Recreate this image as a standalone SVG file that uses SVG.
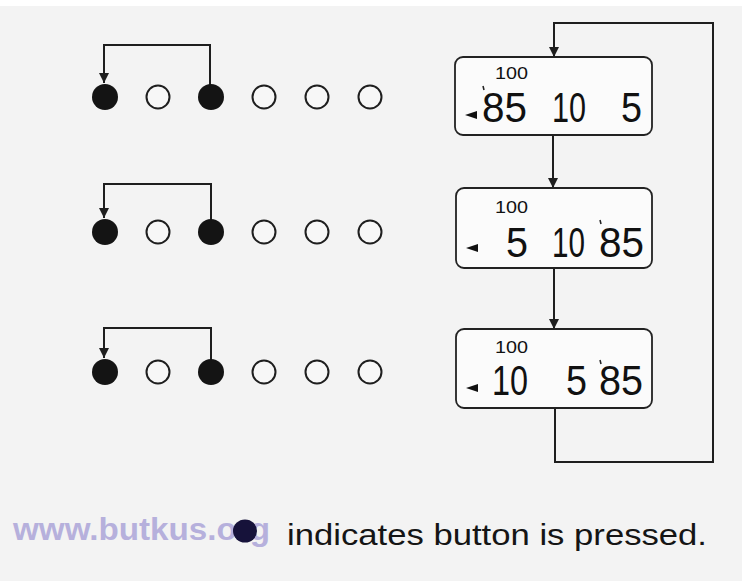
<svg xmlns="http://www.w3.org/2000/svg" width="742" height="581" viewBox="0 0 742 581">
<defs>
<style>
.bg{fill:#f3f3f3}
.line{fill:none;stroke:#1e1e1e;stroke-width:2}
.on{fill:#141414}
.off{fill:#f7f7f7;stroke:#1e1e1e;stroke-width:2}
.lcd{fill:#fbfbfb;stroke:#222;stroke-width:1.8}
.small{font-family:"Liberation Sans",Arial,sans-serif;font-size:16px;fill:#111}
.dig{font-family:"Liberation Sans",Arial,sans-serif;font-size:43px;fill:#111}
.tri{fill:#111}
.wm{font-family:"Liberation Sans",Arial,sans-serif;font-size:32px;font-weight:bold;fill:#b6b0dc}
.leg{font-family:"Liberation Sans",Arial,sans-serif;font-size:30px;fill:#151515}
</style>
<marker id="ah" viewBox="0 0 10 10" refX="10" refY="5" markerWidth="10" markerHeight="10" markerUnits="userSpaceOnUse" orient="auto">
<path d="M0,0 L10,5 L0,10 Z" fill="#1e1e1e"/>
</marker>
</defs>
<rect class="bg" x="0" y="0" width="742" height="581"/>
<rect x="0" y="0" width="742" height="6" fill="#ffffff"/>

<g id="connectors">
<path class="line" d="M210,85 V45 H104 V83" marker-end="url(#ah)"/>
<path class="line" d="M211,220 V184 H104 V218" marker-end="url(#ah)"/>
<path class="line" d="M211,360 V328 H104 V358" marker-end="url(#ah)"/>
<path class="line" d="M553,135 V188" marker-end="url(#ah)"/>
<path class="line" d="M554,268 V329" marker-end="url(#ah)"/>
<path class="line" d="M555,408 V462 H713 V23 H554 V57" marker-end="url(#ah)"/>
</g>

<g id="row1">
<circle class="on" cx="105" cy="97" r="13"/>
<circle class="off" cx="158" cy="97" r="11.5"/>
<circle class="on" cx="211" cy="97" r="13"/>
<circle class="off" cx="264" cy="97" r="11.5"/>
<circle class="off" cx="317" cy="97" r="11.5"/>
<circle class="off" cx="370" cy="97" r="11.5"/>
</g>
<g id="row2">
<circle class="on" cx="105" cy="232" r="13"/>
<circle class="off" cx="158" cy="232" r="11.5"/>
<circle class="on" cx="211" cy="232" r="13"/>
<circle class="off" cx="264" cy="232" r="11.5"/>
<circle class="off" cx="317" cy="232" r="11.5"/>
<circle class="off" cx="370" cy="232" r="11.5"/>
</g>
<g id="row3">
<circle class="on" cx="105" cy="372" r="13"/>
<circle class="off" cx="158" cy="372" r="11.5"/>
<circle class="on" cx="211" cy="372" r="13"/>
<circle class="off" cx="264" cy="372" r="11.5"/>
<circle class="off" cx="317" cy="372" r="11.5"/>
<circle class="off" cx="370" cy="372" r="11.5"/>
</g>

<g id="lcd1">
<rect class="lcd" x="455" y="57" width="197" height="78" rx="8"/>
<text class="small" x="495" y="79" textLength="33" lengthAdjust="spacingAndGlyphs">100</text>
<polygon class="tri" points="465,115 477,111 477,119"/>
<line x1="483" y1="86" x2="484" y2="90" stroke="#222" stroke-width="1.5"/>
<text class="dig" x="482" y="122" textLength="45" lengthAdjust="spacingAndGlyphs">85</text>
<text class="dig" x="552" y="122" textLength="34" lengthAdjust="spacingAndGlyphs">10</text>
<text class="dig" x="621" y="122" textLength="21" lengthAdjust="spacingAndGlyphs">5</text>
</g>

<g id="lcd2">
<rect class="lcd" x="456" y="188" width="196" height="80" rx="8"/>
<text class="small" x="495" y="213" textLength="33" lengthAdjust="spacingAndGlyphs">100</text>
<polygon class="tri" points="466,248 478,244 478,252"/>
<line x1="600" y1="220" x2="601" y2="224" stroke="#222" stroke-width="1.5"/>
<text class="dig" x="506" y="257" textLength="22" lengthAdjust="spacingAndGlyphs">5</text>
<text class="dig" x="552" y="257" textLength="33" lengthAdjust="spacingAndGlyphs">10</text>
<text class="dig" x="599" y="257" textLength="45" lengthAdjust="spacingAndGlyphs">85</text>
</g>

<g id="lcd3">
<rect class="lcd" x="456" y="329" width="196" height="79" rx="8"/>
<text class="small" x="495" y="353" textLength="33" lengthAdjust="spacingAndGlyphs">100</text>
<polygon class="tri" points="466,388 478,384 478,392"/>
<line x1="600" y1="360" x2="601" y2="364" stroke="#222" stroke-width="1.5"/>
<text class="dig" x="492" y="395" textLength="36" lengthAdjust="spacingAndGlyphs">10</text>
<text class="dig" x="566" y="395" textLength="21" lengthAdjust="spacingAndGlyphs">5</text>
<text class="dig" x="599" y="395" textLength="44" lengthAdjust="spacingAndGlyphs">85</text>
</g>

<g id="legend">
<text class="wm" x="13" y="540" textLength="257" lengthAdjust="spacingAndGlyphs">www.butkus.org</text>
<ellipse cx="245" cy="531" rx="12" ry="11.5" fill="#16123a"/>
<text class="leg" x="287" y="545" textLength="420" lengthAdjust="spacingAndGlyphs">indicates button is pressed.</text>
</g>
</svg>
